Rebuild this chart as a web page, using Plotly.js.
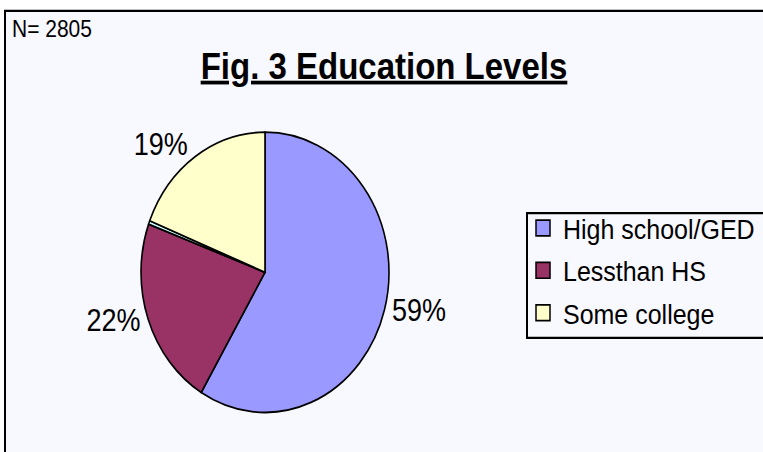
<!DOCTYPE html>
<html><head><meta charset="utf-8">
<script src="https://cdn.plot.ly/plotly-3.0.1.min.js"></script>
<style>
html,body{margin:0;padding:0;background:#fff;width:763px;height:452px}
#wrap{width:763px;height:400px;transform:scaleY(1.13);transform-origin:0 0}
</style>
</head><body><div id="wrap"><div id="chart" style="width:763px;height:400px"></div></div>
<script>
const categories = ['High school/GED', 'Lessthan HS', 'Unknown', 'Some college'];
const percentValues = [58.6, 22.0, 0.4, 19.0];
const sliceColors = ['#9999FF', '#993366', '#CCFFFF', '#FFFFCC'];
const sliceLabelShown = [true, true, false, true];
const legendCategories = ['High school/GED', 'Lessthan HS', 'Some college'];
const legendColors = ['#9999FF', '#993366', '#FFFFCC'];
const sampleSizeText = 'N= 2805';
const titleText = 'Fig. 3 Education Levels';

const W = 763, H = 400;
const px = v => v / W, py = v => 1 - v / H;
const FONT = 'Arial, "Liberation Sans", sans-serif';

const pie = {
  type: 'pie', labels: categories, values: percentValues,
  sort: false, direction: 'clockwise', rotation: 0,
  marker: {colors: sliceColors, line: {color: '#000', width: 1.6}},
  textposition: 'outside',
  texttemplate: sliceLabelShown.map(s => s ? '%{percent:.0%}' : ''),
  textfont: {family: FONT, size: 27, color: '#000'},
  domain: {x: [px(265 - 124), px(265 + 124)], y: [py(241 + 124), py(241 - 124)]},
  showlegend: false, hoverinfo: 'label+percent'
};

const legendTraces = legendCategories.map((name, i) => ({
  type: 'scatter', mode: 'markers', x: [null], y: [null], name: name,
  legendgroup: 'g' + i,
  marker: {symbol: 'square', size: 14, color: legendColors[i], line: {color: '#000', width: 1.5}},
  hoverinfo: 'skip'
}));

const layout = {
  width: W, height: H,
  margin: {l: 0, r: 0, t: 0, b: 0, autoexpand: false},
  paper_bgcolor: '#ffffff', plot_bgcolor: 'rgba(0,0,0,0)',
  xaxis: {visible: false, range: [0, 1]}, yaxis: {visible: false, range: [0, 1]},
  showlegend: true,
  legend: {
    x: px(523), y: py(179), xanchor: 'left', yanchor: 'top',
    bgcolor: 'rgba(0,0,0,0)', borderwidth: 0,
    font: {family: FONT, size: 25, color: '#000'},
    traceorder: 'grouped', tracegroupgap: 2, itemwidth: 30
  },
  title: {
    text: '<b><u>' + titleText + '</u></b>',
    x: px(384), xref: 'paper', xanchor: 'center',
    y: py(58), yref: 'paper', yanchor: 'middle',
    font: {family: FONT, size: 33, color: '#000'}
  },
  annotations: [{
    text: sampleSizeText, x: px(10), y: py(25.5), xref: 'paper', yref: 'paper',
    xanchor: 'left', yanchor: 'middle', showarrow: false,
    font: {family: FONT, size: 21, color: '#000'}
  }],
  shapes: [
    {type: 'rect', xref: 'paper', yref: 'paper',
     x0: px(5), x1: 1.1, y0: -0.1, y1: py(9.7),
     line: {color: '#000', width: 2}, fillcolor: '#F8F8FF', layer: 'below'},
    {type: 'rect', xref: 'paper', yref: 'paper',
     x0: px(527), x1: 1.1, y0: py(299), y1: py(188.5),
     line: {color: '#000', width: 2}, fillcolor: 'rgba(0,0,0,0)', layer: 'below'}
  ]
};

Plotly.newPlot('chart', [pie].concat(legendTraces), layout, {displayModeBar: false, staticPlot: true});
</script></body></html>
